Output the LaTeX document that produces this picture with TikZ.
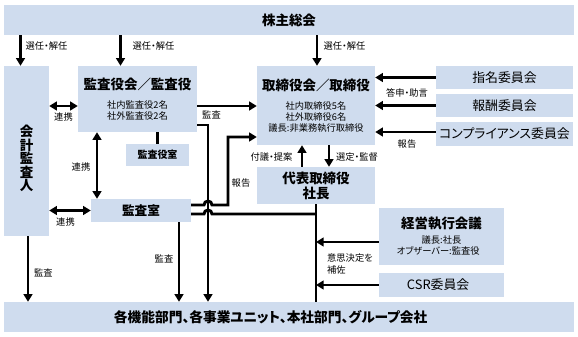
\documentclass[tikz,border=0pt]{standalone}
\usepackage{fontspec}
\setmainfont{Noto Sans CJK JP}[RawFeature=+palt]
\usetikzlibrary{arrows.meta}

\definecolor{boxblue}{HTML}{CFDCEE}

\newcommand\headfont{\bfseries\fontsize{11.5}{13}\selectfont}
\newcommand\subfont{\fontsize{7.9}{9.2}\selectfont}
\newcommand\commfont{\fontsize{11}{13}\selectfont}

\tikzset{
  box/.style={fill=boxblue, inner sep=0pt, align=center},
  lbl/.style={font=\fontsize{7.9}{9.5}\selectfont, inner sep=0pt, align=left},
  ln/.style={line width=2.5pt},
  arr/.style={ln, -{Triangle[length=6.5pt,width=7.5pt]}},
  dblarr/.style={ln, {Triangle[length=6.5pt,width=7.5pt]}-{Triangle[length=6.5pt,width=7.5pt]}},
}

\begin{document}
\begin{tikzpicture}[x=0.03cm, y=-0.03cm]
\useasboundingbox (0,0) rectangle (578,337);

% boxes
\node[box, minimum width=17.1cm, minimum height=0.9cm, font=\headfont] (kabunushi) at (289,20) {株主総会};
\node[box, minimum width=1.35cm, minimum height=5.1cm] (kaikei) at (26.5,151) {};
\node[inner sep=0pt, align=center, font=\bfseries\fontsize{11.5}{11.6}\selectfont] (kaikeitxt) at (26.5,158.5) {会\\計\\監\\査\\人};
\node[box, minimum width=3.57cm, minimum height=1.98cm, font=\subfont] (kansayaku) at (137.5,99)
  {{\headfont 監査役会／監査役}\\[6.6pt]社内監査役2名\\社外監査役2名};
\node[box, minimum width=1.89cm, minimum height=0.66cm, font=\bfseries\fontsize{8.5}{10}\selectfont] (yakushitsu) at (157.5,155) {監査役室};
\node[box, minimum width=3.54cm, minimum height=2.37cm, font=\fontsize{7.9}{9.4}\selectfont] (torishimari) at (316,105.5)
  {{\headfont 取締役会／取締役}\\[7.2pt]社内取締役5名\\社外取締役6名\\議長:非業務執行取締役};
\node[box, minimum width=4.11cm, minimum height=0.69cm, font=\commfont] (shimei) at (504.5,77.5) {指名委員会};
\node[box, minimum width=4.11cm, minimum height=0.69cm, font=\commfont] (hoshu) at (504.5,105.5) {報酬委員会};
\node[box, minimum width=4.11cm, minimum height=0.72cm, font=\commfont] (compliance) at (504.5,134) {コンプライアンス委員会};
\node[box, minimum width=3.54cm, minimum height=1.11cm, font=\bfseries\fontsize{11.5}{12.8}\selectfont] (shacho) at (316,185.5) {代表取締役\\社長};
\node[box, minimum width=3cm, minimum height=0.69cm, font=\bfseries\fontsize{10.8}{12}\selectfont] (kansashitsu) at (141,210.5) {監査室};
\node[box, minimum width=3.75cm, minimum height=1.71cm, font=\fontsize{7.9}{9.4}\selectfont] (keiei) at (441.5,236.5)
  {{\headfont 経営執行会議}\\[3.3pt]議長:社長\\オブザーバー:監査役\hspace*{0.2cm}};
\node[box, minimum width=3.75cm, minimum height=0.72cm, font=\commfont] (csr) at (441.5,285) {CSR委員会\hspace*{0.2cm}};
\node[box, minimum width=17.1cm, minimum height=0.9cm, font=\bfseries\fontsize{11.7}{14}\selectfont] (kakubumon) at (289,317) {各機能部門、各事業ユニット、本社部門、グループ会社\hspace*{1.1cm}};

% shareholders elect
\draw[arr] (kabunushi.south -| 20.5,0) -- (kaikei.north -| 20.5,0);
\draw[arr] (kabunushi.south -| 120.5,0) -- (kansayaku.north -| 120.5,0);
\draw[arr] (kabunushi.south -| 317,0) -- (torishimari.north -| 317,0);

% audit side
\draw[dblarr] (kaikei.east |- 0,106) -- (kansayaku.west |- 0,106);
\draw[arr] (kansayaku.east |- 0,106) -- (torishimari.west |- 0,106);
\draw[ln] (kansayaku.south -| yakushitsu.north) -- (yakushitsu.north);
\draw[dblarr] (kansayaku.south -| 97,0) -- (kansashitsu.north -| 97,0);
\draw[arr] (kansayaku.east |- 0,125) -| (kakubumon.north -| 208,0);
\draw[dblarr] (kaikei.east |- kansashitsu.west) -- (kansashitsu.west);
\draw[arr] (kaikei.south -| 28,0) -- (kakubumon.north -| 28,0);
\draw[arr] (kansashitsu.south -| 179,0) -- (kakubumon.north -| 179,0);

% lines hopping over the audit line
\draw[arr] (kansashitsu.east |- 0,205) -- (204,205) arc[start angle=180, end angle=0, radius=0.12cm]
  -- (228,205) |- (torishimari.west |- 0,137);
\draw[ln] (kansashitsu.east |- 0,214) -- (204,214) arc[start angle=180, end angle=0, radius=0.12cm]
  -- (shacho.south |- 0,214);

% executive side
\draw[ln] (shacho.south) -- (kakubumon.north -| shacho.south);
\draw[arr] (keiei.west |- 0,242) -- (shacho.south |- 0,242);
\draw[arr] (csr.west) -- (csr.west -| shacho.south);
\draw[arr] (torishimari.south -| 329,0) -- (shacho.north -| 329,0);
\draw[arr] (shacho.north -| 302,0) -- (torishimari.south -| 302,0);

% committees
\draw[arr] (shimei.west) -- (shimei.west -| torishimari.east);
\draw[arr] (hoshu.west) -- (hoshu.west -| torishimari.east);
\draw[arr] (compliance.west |- 0,132) -- (torishimari.east |- 0,132);

% labels
\node[lbl] (senninA) at (46.5,46) {選任・解任};
\node[lbl] (senninB) at (153.5,46) {選任・解任};
\node[lbl] (senninC) at (344.5,46) {選任・解任};
\node[lbl] (renkeiA) at (63.5,117) {連携};
\node[lbl] (renkeiB) at (81,167) {連携};
\node[lbl] (renkeiC) at (65.5,222) {連携};
\node[lbl] (kansaA) at (211.5,115) {監査};
\node[lbl] (kansaB) at (43.5,273) {監査};
\node[lbl] (kansaC) at (164,259) {監査};
\node[lbl] (hokokuA) at (241,183) {報告};
\node[lbl] (fugi) at (271.5,157) {付議・提案};
\node[lbl] (sentei) at (357,157) {選定・監督};
\node[lbl] (toshin) at (407,93) {答申・助言};
\node[lbl] (hokokuB) at (407,144) {報告};
\node[lbl, anchor=west] (hosa) at (327,264) {意思決定を\\補佐};
\end{tikzpicture}
\end{document}
